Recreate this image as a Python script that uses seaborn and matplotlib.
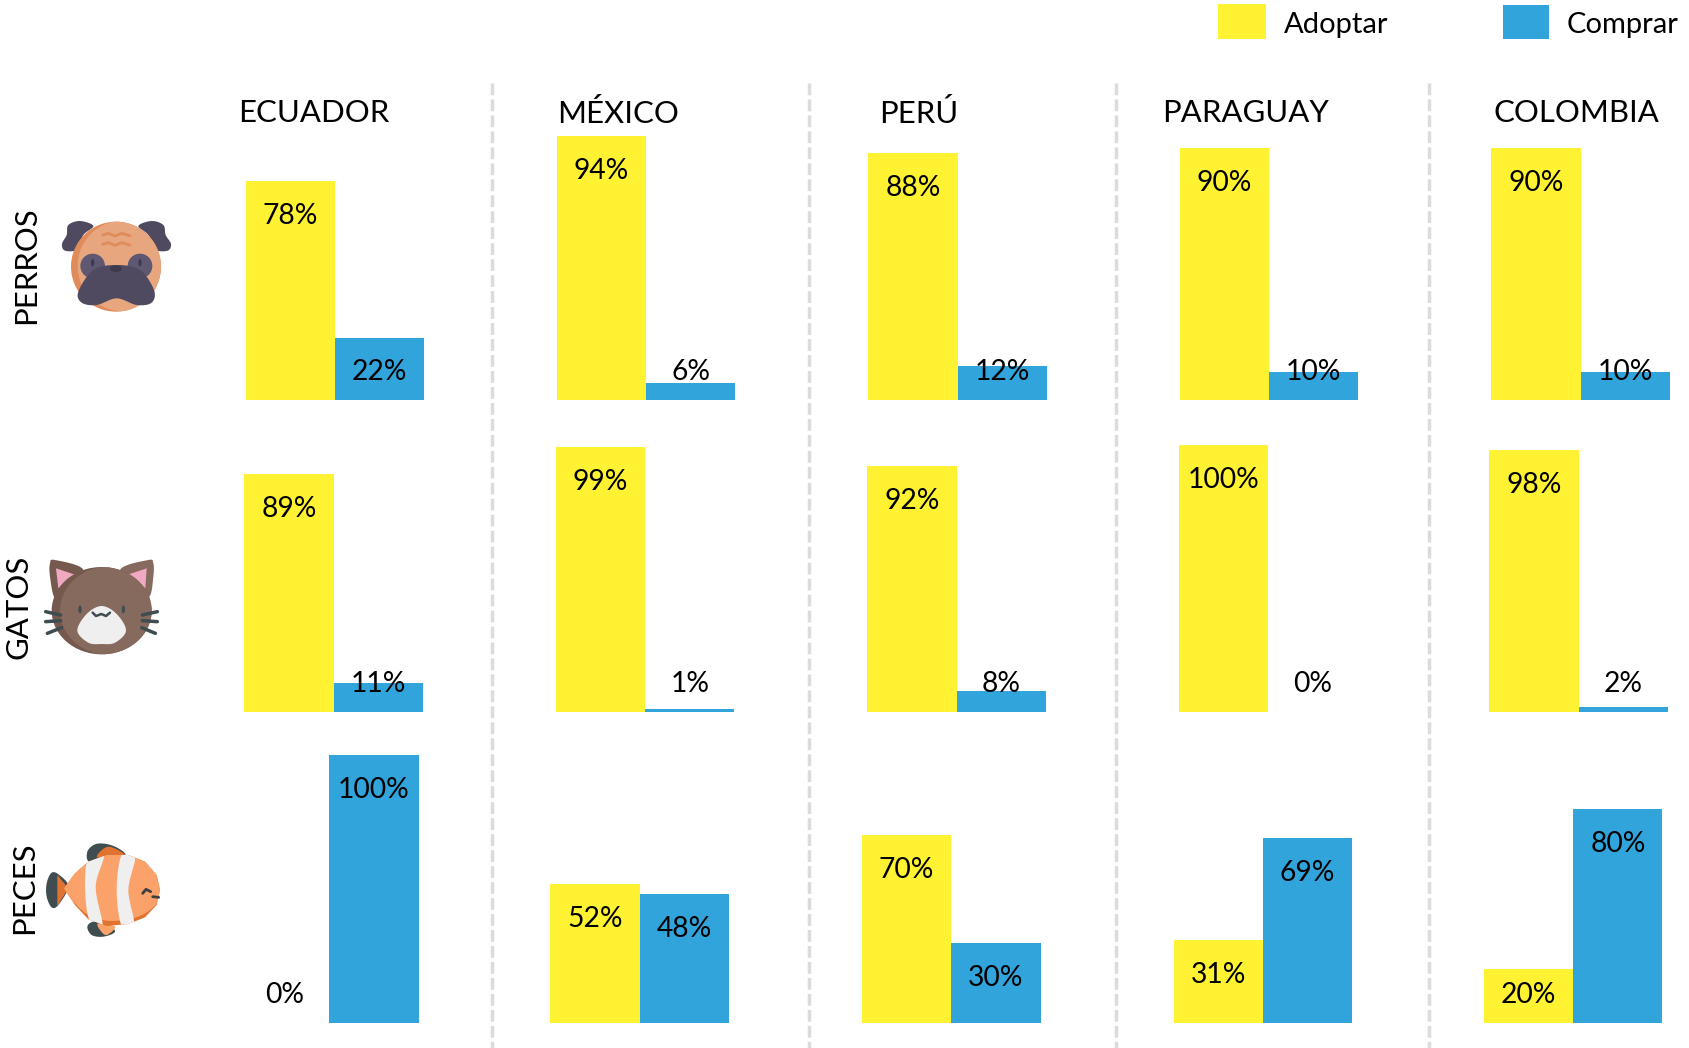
import numpy as np
import pandas as pd
import seaborn as sns
import matplotlib
matplotlib.use('Agg')
import matplotlib.pyplot as plt
from matplotlib.patches import Circle, Ellipse, Polygon, Rectangle

# ---- data ----
paises = ['ECUADOR', 'MÉXICO', 'PERÚ', 'PARAGUAY', 'COLOMBIA']
animales = ['PERROS', 'GATOS', 'PECES']
acciones = ['Adoptar', 'Comprar']

perros_adoptar = [78, 94, 88, 90, 90]
perros_comprar = [22, 6, 12, 10, 10]
gatos_adoptar = [89, 99, 92, 100, 98]
gatos_comprar = [11, 1, 8, 0, 2]
peces_adoptar = [0, 52, 70, 31, 20]
peces_comprar = [100, 48, 30, 69, 80]

AMARILLO = '#FFF232'
AZUL = '#31A4DC'
GRIS = '#DCDCDC'

# ---- layout, in pixels of the 1690x1048 picture ----
W, H = 1690, 1048
panel_w = 178.5
panel_left = [
    [245.5, 557, 868.5, 1180, 1491.5],
    [244.5, 556, 867.5, 1179, 1489.5],
    [240, 550.5, 862, 1173.5, 1484],
]
baseline = [400, 712, 1023]
px_per_pct = [2.805, 2.675, 2.68]
title_left = [238, 557, 879, 1162, 1494]
divisores = [492.5, 809.5, 1116.5, 1429.5]

sns.set_theme(style='white')
plt.rcParams['font.family'] = ['Lato', 'DejaVu Sans']

fig = plt.figure(figsize=(W / 100, H / 100), dpi=100)
fig.patch.set_facecolor('white')

# overlay in pixel coordinates for the dividers, legend, titles and icons
ov = fig.add_axes([0, 0, 1, 1], zorder=5)
ov.set_xlim(0, W)
ov.set_ylim(H, 0)
ov.axis('off')
ov.patch.set_alpha(0)

filas = [
    (perros_adoptar, perros_comprar),
    (gatos_adoptar, gatos_comprar),
    (peces_adoptar, peces_comprar),
]

for r, (adoptar, comprar) in enumerate(filas):
    alto = px_per_pct[r] * 100
    for c, pais in enumerate(paises):
        ax = fig.add_axes([panel_left[r][c] / W, 1 - baseline[r] / H,
                           panel_w / W, alto / H])
        df = pd.DataFrame({'accion': acciones, 'pct': [adoptar[c], comprar[c]]})
        sns.barplot(data=df, x='accion', y='pct', hue='accion',
                    palette=[AMARILLO, AZUL], hue_order=acciones, order=acciones,
                    width=1, saturation=1, legend=False, linewidth=0, ax=ax)
        ax.set_xlim(-0.5, 1.5)
        ax.set_ylim(0, 100)
        ax.axis('off')
        # label sits inside the bar top, or at a fixed height for the short ones
        for i, v in enumerate(df['pct']):
            ax.text(i, max(v - 35 / px_per_pct[r], 28 / px_per_pct[r]), f'{v}%',
                    ha='center', va='center', fontsize=20.3, color='black', clip_on=False)

for x in divisores:
    ov.plot([x, x], [83, H], color=GRIS, lw=2.5, linestyle=(0, (3.4, 1.2)))

for x, pais in zip(title_left, paises):
    ov.text(x, 113.5, pais, ha='left', va='center', fontsize=22.4, color='black')

for nombre, x, y in zip(animales, [26, 19, 24], [265, 607, 888]):
    ov.text(x, y, nombre, rotation=90, ha='center', va='center', fontsize=22.4, color='black')

# legend
ov.add_patch(Rectangle((1218, 4), 48, 35, color=AMARILLO, lw=0))
ov.add_patch(Rectangle((1503, 5), 46, 34, color=AZUL, lw=0))
ov.text(1284, 25, acciones[0], ha='left', va='center', fontsize=21, color='black')
ov.text(1567, 25, acciones[1], ha='left', va='center', fontsize=21, color='black')


def z(pts, x0, y0):
    return [(x0 + a / 3, y0 + b / 3) for a, b in pts]


def blob(pts, x0, y0, color, zorder=6, clip=None):
    # closed smooth shape through the points (catmull-rom)
    p = np.array(z(pts, x0, y0))
    n = len(p)
    out = []
    for i in range(n):
        p0, p1, p2, p3 = p[i - 1], p[i], p[(i + 1) % n], p[(i + 2) % n]
        for t in np.linspace(0, 1, 12, endpoint=False):
            out.append(0.5 * (2 * p1 + (p2 - p0) * t + (2 * p0 - 5 * p1 + 4 * p2 - p3) * t ** 2
                              + (3 * p1 - p0 - 3 * p2 + p3) * t ** 3))
    pg = Polygon(out, closed=True, color=color, lw=0, zorder=zorder)
    ov.add_patch(pg)
    if clip is not None:
        pg.set_clip_path(clip)
    return pg


def curva(pts, x0, y0, color, lw, zorder=8):
    p = z(pts, x0, y0)
    ov.plot([a for a, b in p], [b for a, b in p], color=color, lw=lw, zorder=zorder,
            solid_capstyle='round', solid_joinstyle='round')


def perro(x0=0, y0=190):
    oscuro, medio = '#4F4A60', '#5E5873'
    blob([(205, 105), (240, 93), (280, 108), (250, 135), (232, 178), (195, 182), (186, 162), (200, 135)],
         x0, y0, oscuro)
    blob([(490, 105), (455, 93), (415, 108), (445, 135), (465, 178), (503, 182), (513, 162), (497, 135)],
         x0, y0, oscuro)
    base = Ellipse((x0 + 348 / 3, y0 + 230 / 3), 270 / 3, 270 / 3, color='#E08B5A', lw=0, zorder=6)
    ov.add_patch(base)
    cara = Ellipse((x0 + 368 / 3, y0 + 228 / 3), 270 / 3, 272 / 3, color='#E8A67E', lw=0, zorder=6.1)
    ov.add_patch(cara)
    cara.set_clip_path(base)
    for dy in (0, 28):
        curva([(308, 135 + dy), (325, 130 + dy), (345, 138 + dy), (365, 130 + dy), (390, 137 + dy)],
              x0, y0, '#E08B5A', 2, zorder=7)
    ov.add_patch(Circle((x0 + 278 / 3, y0 + 228 / 3), 37 / 3, color=medio, lw=0, zorder=7))
    ov.add_patch(Circle((x0 + 420 / 3, y0 + 228 / 3), 37 / 3, color=medio, lw=0, zorder=7))
    ov.add_patch(Ellipse((x0 + 278 / 3, y0 + 218 / 3), 10 / 3, 22 / 3, color='#3E3A4C', lw=0, zorder=7.1))
    ov.add_patch(Ellipse((x0 + 420 / 3, y0 + 218 / 3), 10 / 3, 22 / 3, color='#3E3A4C', lw=0, zorder=7.1))
    blob([(350, 225), (420, 240), (462, 300), (455, 338), (410, 345), (350, 325),
          (290, 345), (245, 338), (235, 305), (280, 240)], x0, y0, oscuro, zorder=7.2)
    ov.add_patch(Ellipse((x0 + 348 / 3, y0 + 236 / 3), 36 / 3, 20 / 3, color='#3E3A4C', lw=0, zorder=7.3))


def gato(x0=0, y0=540):
    cafe, borde = '#876A5E', '#75594E'
    blob([(150, 70), (165, 60), (250, 90), (200, 160), (165, 175), (150, 110)], x0, y0, borde)
    blob([(460, 70), (445, 60), (360, 90), (410, 160), (448, 170), (460, 110)], x0, y0, cafe)
    ov.add_patch(Polygon(z([(168, 85), (228, 105), (175, 145)], x0, y0), color='#EFA9C0', lw=0, zorder=6.2))
    ov.add_patch(Polygon(z([(440, 85), (380, 105), (436, 145)], x0, y0), color='#EFA9C0', lw=0, zorder=6.2))
    base = Ellipse((x0 + 305 / 3, y0 + 212 / 3), 300 / 3, 262 / 3, color=borde, lw=0, zorder=6.3)
    ov.add_patch(base)
    cara = Ellipse((x0 + 325 / 3, y0 + 212 / 3), 290 / 3, 264 / 3, color=cafe, lw=0, zorder=6.4)
    ov.add_patch(cara)
    cara.set_clip_path(base)
    blob([(305, 198), (350, 222), (378, 272), (345, 308), (305, 312), (265, 308), (232, 272), (260, 222)],
         x0, y0, '#EFEFF0', zorder=7)
    oscuro = '#3F4C50'
    ov.add_patch(Ellipse((x0 + 240 / 3, y0 + 208 / 3), 10 / 3, 24 / 3, color=oscuro, lw=0, zorder=7.5))
    ov.add_patch(Ellipse((x0 + 370 / 3, y0 + 208 / 3), 10 / 3, 24 / 3, color=oscuro, lw=0, zorder=7.5))
    curva([(278, 218), (288, 228), (304, 222), (318, 228), (330, 218)], x0, y0, oscuro, 1.8)
    curva([(137, 215), (182, 225)], x0, y0, oscuro, 2.5)
    curva([(137, 245), (182, 242)], x0, y0, oscuro, 2.5)
    curva([(142, 280), (185, 263)], x0, y0, oscuro, 2.5)
    curva([(472, 215), (427, 225)], x0, y0, oscuro, 2.5)
    curva([(472, 245), (427, 242)], x0, y0, oscuro, 2.5)
    curva([(466, 280), (425, 263)], x0, y0, oscuro, 2.5)


def pez(x0=0, y0=820):
    oscuro, naranja, claro, banda = '#3F4C50', '#E0732F', '#FBA26B', '#EFEFF0'
    blob([(262, 95), (285, 73), (320, 72), (355, 85), (375, 105), (320, 110), (268, 125)], x0, y0, oscuro)
    blob([(290, 110), (325, 80), (375, 105), (330, 112)], x0, y0, naranja)
    blob([(262, 320), (280, 305), (320, 310), (345, 335), (310, 350), (275, 345)], x0, y0, oscuro)
    blob([(295, 310), (345, 320), (320, 345), (300, 330)], x0, y0, claro)
    blob([(140, 190), (155, 158), (178, 165), (205, 200), (175, 255), (155, 262), (140, 230)], x0, y0, oscuro)
    ov.add_patch(Polygon(z([(172, 165), (205, 205), (172, 258)], x0, y0), color=naranja, lw=0, zorder=6.2))
    cuerpo = Polygon(z([(192, 205), (225, 160), (265, 125), (320, 105), (385, 105), (435, 125), (470, 165),
                        (480, 210), (470, 255), (435, 292), (385, 312), (320, 318), (265, 298), (225, 255)],
                       x0, y0), closed=True, color=naranja, lw=0, zorder=6.5)
    ov.add_patch(cuerpo)
    blob([(192, 205), (225, 160), (265, 125), (320, 105), (385, 105), (435, 125), (470, 165),
          (480, 210), (470, 250), (435, 280), (385, 298), (320, 302), (265, 285), (225, 250)],
         x0, y0, claro, zorder=6.6, clip=cuerpo)
    blob([(265, 115), (312, 105), (287, 200), (308, 320), (268, 300), (255, 200)], x0, y0, banda, zorder=6.7, clip=cuerpo)
    blob([(365, 105), (405, 110), (385, 210), (402, 312), (365, 318), (350, 210)], x0, y0, banda, zorder=6.7, clip=cuerpo)
    curva([(428, 220), (438, 208), (452, 215)], x0, y0, '#3F3F3F', 2)
    curva([(458, 230), (476, 232)], x0, y0, '#3F3F3F', 2)


perro()
gato()
pez()

fig.savefig('out.png', dpi=100, facecolor='white')
